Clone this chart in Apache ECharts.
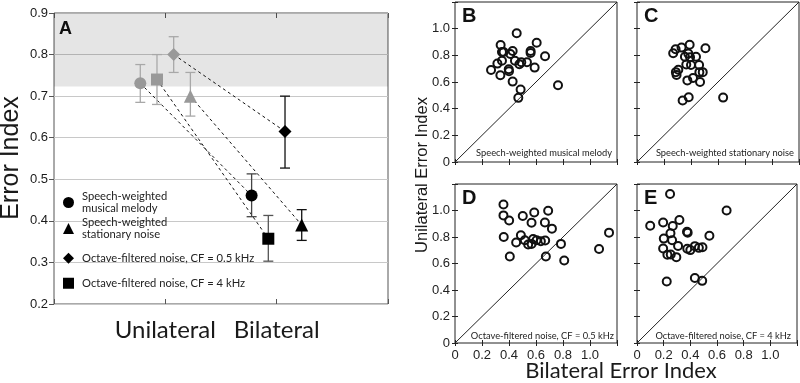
<!DOCTYPE html>
<html>
<head>
<meta charset="utf-8">
<script src="https://cdn.jsdelivr.net/npm/echarts@6/dist/echarts.min.js"></script>
<style>
  html, body { margin: 0; padding: 0; background: #fff; }
  #main { width: 800px; height: 383px; }
</style>
</head>
<body>
<div id="main"></div>
<script>
// ---- panel A: group means with error bars ----
const groups = ['Unilateral', 'Bilateral'];
const conditions = [
  'Speech-weighted\nmusical melody',
  'Speech-weighted\nstationary noise',
  'Octave-filtered noise, CF = 0.5 kHz',
  'Octave-filtered noise, CF = 4 kHz'
];
const uniMean = [0.731, 0.700, 0.800, 0.740];
const uniLow  = [0.685, 0.652, 0.757, 0.680];
const uniHigh = [0.776, 0.757, 0.843, 0.800];
const biMean  = [0.461, 0.390, 0.615, 0.357];
const biLow   = [0.410, 0.353, 0.527, 0.303];
const biHigh  = [0.513, 0.427, 0.700, 0.413];
const bandFrom = 0.723;

// ---- panels B-E: [bilateral, unilateral] per subject ----
const melodyPts = [
  [0.457, 0.965], [0.338, 0.878], [0.605, 0.895], [0.348, 0.825], [0.360, 0.825],
  [0.427, 0.832], [0.410, 0.810], [0.560, 0.832], [0.560, 0.818], [0.667, 0.793],
  [0.348, 0.760], [0.314, 0.738], [0.444, 0.760], [0.491, 0.748], [0.477, 0.733],
  [0.533, 0.748], [0.267, 0.690], [0.398, 0.695], [0.400, 0.680], [0.590, 0.708],
  [0.336, 0.650], [0.427, 0.603], [0.763, 0.576], [0.486, 0.543], [0.469, 0.481]
];
const stationaryPts = [
  [0.390, 0.880], [0.330, 0.858], [0.286, 0.846], [0.268, 0.816], [0.507, 0.853],
  [0.380, 0.813], [0.355, 0.789], [0.393, 0.786], [0.437, 0.789], [0.365, 0.731],
  [0.400, 0.727], [0.460, 0.727], [0.306, 0.692], [0.288, 0.674], [0.293, 0.652],
  [0.462, 0.674], [0.487, 0.674], [0.415, 0.630], [0.373, 0.612], [0.467, 0.600],
  [0.383, 0.486], [0.338, 0.461], [0.638, 0.483]
];
const cf05Pts = [
  [0.359, 1.045], [0.359, 0.963], [0.401, 0.925], [0.502, 0.958], [0.587, 0.985],
  [0.690, 0.998], [0.567, 0.908], [0.666, 0.910], [0.718, 0.863], [1.141, 0.833],
  [0.361, 0.800], [0.488, 0.813], [0.517, 0.775], [0.453, 0.758], [0.542, 0.743],
  [0.567, 0.748], [0.579, 0.785], [0.604, 0.775], [0.636, 0.768], [0.668, 0.773],
  [0.785, 0.748], [1.067, 0.710], [0.406, 0.653], [0.673, 0.653], [0.809, 0.623]
];
const cf4Pts = [
  [0.248, 1.125], [0.672, 1.000], [0.196, 0.910], [0.318, 0.928], [0.099, 0.885],
  [0.268, 0.883], [0.251, 0.828], [0.375, 0.840], [0.380, 0.833], [0.543, 0.810],
  [0.201, 0.788], [0.263, 0.776], [0.308, 0.733], [0.196, 0.713], [0.377, 0.711],
  [0.400, 0.701], [0.434, 0.731], [0.464, 0.718], [0.491, 0.723], [0.228, 0.666],
  [0.253, 0.668], [0.295, 0.648], [0.223, 0.464], [0.434, 0.491], [0.489, 0.469]
];
const scatterSets = [melodyPts, stationaryPts, cf05Pts, cf4Pts];
const captions = [
  'Speech-weighted musical melody',
  'Speech-weighted stationary noise',
  'Octave-filtered noise, CF = 0.5 kHz',
  'Octave-filtered noise, CF = 4 kHz'
];
const letters = ['B', 'C', 'D', 'E'];
const diag = [0, 1.2];

// layout / style
const symbols = ['circle', 'triangle', 'diamond', 'rect'];
const dodge = [-0.225, 0.225, 0.075, -0.075];
const symSize = [12, 13, 13, 12];
const biBarColor = ['#444', '#111', '#111', '#555'];
const legendTop = [190, 216, 252, 277];
const arial = 'Liberation Sans, Arial, sans-serif';
const calibri = 'Lato, Open Sans, sans-serif';

const chart = echarts.init(document.getElementById('main'));

const grids = [
  { left: 54, top: 13, width: 334, height: 291 },
  { left: 455, top: 2, width: 162, height: 160 },
  { left: 637, top: 2, width: 162, height: 160 },
  { left: 455, top: 184, width: 162, height: 159 },
  { left: 637, top: 184, width: 162, height: 159 }
].map((g, i) => Object.assign(g, {
  show: true, borderColor: i === 0 ? '#555' : '#222', borderWidth: 1, backgroundColor: 'transparent'
}));

const xAxes = [];
const yAxes = [];

// panel A axes
xAxes.push({
  gridIndex: 0, type: 'value', min: 0, max: 3, interval: 1, position: 'bottom',
  axisLine: { show: false }, splitLine: { show: false },
  axisTick: { inside: true, length: 5, lineStyle: { color: '#555' } },
  axisLabel: {
    margin: 14, fontSize: 24, fontFamily: 'Lato', color: '#1a1a1a',
    formatter: v => (v >= 1 && v <= 2 ? groups[v - 1] : '')
  }
});
xAxes.push({
  gridIndex: 0, type: 'value', min: 0, max: 3, interval: 1, position: 'top',
  axisLine: { show: false }, splitLine: { show: false }, axisLabel: { show: false },
  axisTick: { inside: true, length: 5, lineStyle: { color: '#555' } }
});
yAxes.push({
  gridIndex: 0, type: 'value', min: 0.2, max: 0.9, interval: 0.1, position: 'left',
  axisLine: { show: false }, axisTick: { show: false },
  splitLine: { lineStyle: { color: '#c8c8c8', width: 1 } },
  axisLabel: { fontSize: 13, fontFamily: 'Liberation Sans', color: '#1a1a1a', margin: 6, formatter: v => v.toFixed(1) }
});
yAxes.push({
  gridIndex: 0, type: 'value', min: 0.2, max: 0.9, interval: 0.1, position: 'right',
  axisLine: { show: false }, splitLine: { show: false }, axisLabel: { show: false },
  axisTick: { inside: true, length: 5, lineStyle: { color: '#555' } }
});

// scatter panel axes
const scatterLabel = v => (v === 0 ? '0' : (v > 1.1 ? '' : v.toFixed(1)));
for (let p = 1; p <= 4; p++) {
  const showX = p >= 3;
  const showY = p === 1 || p === 3;
  ['bottom', 'top'].forEach(pos => xAxes.push({
    gridIndex: p, type: 'value', min: 0, max: 1.2, interval: 0.2, position: pos,
    axisLine: { show: false }, splitLine: { show: false },
    axisTick: { inside: true, length: 3, lineStyle: { color: '#222' } },
    axisLabel: {
      show: showX && pos === 'bottom', fontSize: 13, fontFamily: 'Liberation Sans', color: '#222', margin: 6,
      formatter: scatterLabel
    }
  }));
  ['left', 'right'].forEach(pos => yAxes.push({
    gridIndex: p, type: 'value', min: 0, max: 1.2, interval: 0.2, position: pos,
    axisLine: { show: false }, splitLine: { show: false },
    axisTick: { inside: true, length: 3, lineStyle: { color: '#222' } },
    axisLabel: {
      show: showY && pos === 'left', fontSize: 13, fontFamily: 'Liberation Sans', color: '#222', margin: 5,
      formatter: scatterLabel
    }
  }));
}

function errRender(params, api) {
  const x = api.value(0);
  const lo = api.coord([x, api.value(1)]);
  const hi = api.coord([x, api.value(2)]);
  const w = 5;
  const style = { stroke: api.visual('color'), lineWidth: 1.3 };
  return {
    type: 'group',
    children: [
      { type: 'line', shape: { x1: lo[0], y1: lo[1], x2: hi[0], y2: hi[1] }, style },
      { type: 'line', shape: { x1: lo[0] - w, y1: lo[1], x2: lo[0] + w, y2: lo[1] }, style },
      { type: 'line', shape: { x1: hi[0] - w, y1: hi[1], x2: hi[0] + w, y2: hi[1] }, style }
    ]
  };
}

const series = [];

// shaded band
series.push({
  type: 'line', xAxisIndex: 0, yAxisIndex: 0, data: [], silent: true,
  markArea: {
    silent: true,
    itemStyle: { color: 'rgba(0,0,0,0.10)' },
    data: [[{ yAxis: bandFrom }, { yAxis: 0.9 }]]
  }
});

conditions.forEach((c, i) => {
  const xu = 1 + dodge[i];
  const xb = 2 + dodge[i];
  // dashed connector
  series.push({
    type: 'line', xAxisIndex: 0, yAxisIndex: 0, z: 1, silent: true,
    symbol: 'none', data: [[xu, uniMean[i]], [xb, biMean[i]]],
    lineStyle: { color: '#111', width: 1, type: [3, 3] }
  });
  // error bars
  series.push({
    type: 'custom', xAxisIndex: 0, yAxisIndex: 0, z: 2, renderItem: errRender,
    encode: { x: 0, y: [1, 2] },
    itemStyle: { color: '#a8a8a8' },
    data: [[xu, uniLow[i], uniHigh[i]]]
  });
  series.push({
    type: 'custom', xAxisIndex: 0, yAxisIndex: 0, z: 2, renderItem: errRender,
    encode: { x: 0, y: [1, 2] },
    itemStyle: { color: biBarColor[i] },
    data: [[xb, biLow[i], biHigh[i]]]
  });
  // markers
  series.push({
    name: 'uni-' + i, type: 'scatter', xAxisIndex: 0, yAxisIndex: 0, z: 3,
    symbol: symbols[i], symbolSize: symSize[i],
    itemStyle: { color: '#999', opacity: 1 },
    data: [[xu, uniMean[i]]]
  });
  series.push({
    name: c, type: 'scatter', xAxisIndex: 0, yAxisIndex: 0, z: 3,
    symbol: symbols[i], symbolSize: symSize[i],
    itemStyle: { color: '#000', opacity: 1 },
    data: [[xb, biMean[i]]]
  });
});

scatterSets.forEach((pts, k) => {
  const ax = 2 + k * 2;
  series.push({
    type: 'line', xAxisIndex: ax, yAxisIndex: ax, symbol: 'none', silent: true, z: 1,
    data: [[diag[0], diag[0]], [diag[1], diag[1]]],
    lineStyle: { color: '#222', width: 1 }
  });
  series.push({
    type: 'scatter', xAxisIndex: ax, yAxisIndex: ax, z: 3,
    symbol: 'circle', symbolSize: 8,
    itemStyle: { color: 'rgba(0,0,0,0)', borderColor: '#111', borderWidth: 2, opacity: 1 },
    data: pts
  });
});

const graphic = [
  { type: 'text', x: 59, y: 20, style: { text: 'A', font: 'bold 18px ' + arial, fill: '#111' } },
  { type: 'text', x: 11, y: 158, rotation: Math.PI / 2,
    style: { text: 'Error Index', font: '25px ' + arial, fill: '#1a1a1a', align: 'center', verticalAlign: 'middle' } },
  { type: 'text', x: 422, y: 175, rotation: Math.PI / 2,
    style: { text: 'Unilateral Error Index', font: '16.5px ' + arial, fill: '#1a1a1a', align: 'center', verticalAlign: 'middle' } },
  { type: 'text', x: 621, y: 371,
    style: { text: 'Bilateral Error Index', font: '22px ' + calibri, fill: '#1a1a1a', align: 'center', verticalAlign: 'middle' } }
];
const capPos = [[612, 153], [794, 153], [614, 336], [791, 336]];
const letterPos = [[462, 6], [644, 6], [462, 188], [644, 188]];
letters.forEach((l, k) => {
  graphic.push({ type: 'text', x: letterPos[k][0], y: letterPos[k][1],
    style: { text: l, font: 'bold 20px ' + arial, fill: '#111' } });
  graphic.push({ type: 'text', x: capPos[k][0], y: capPos[k][1],
    style: { text: captions[k], font: '9.3px ' + calibri, fill: '#222', align: 'right', verticalAlign: 'middle' } });
});

const legends = conditions.map((c, i) => ({
  data: [{ name: c, icon: symbols[i] }],
  left: 63, top: legendTop[i], orient: 'vertical', padding: 0,
  itemWidth: 11, itemHeight: 11, itemGap: 0, selectedMode: false,
  textStyle: { fontSize: 11.2, lineHeight: 12.5, fontFamily: 'Lato', color: '#222', padding: [0, 0, 0, 3] }
}));

chart.setOption({
  animation: false,
  grid: grids,
  xAxis: xAxes,
  yAxis: yAxes,
  legend: legends,
  graphic: graphic,
  series: series
});
</script>
</body>
</html>
